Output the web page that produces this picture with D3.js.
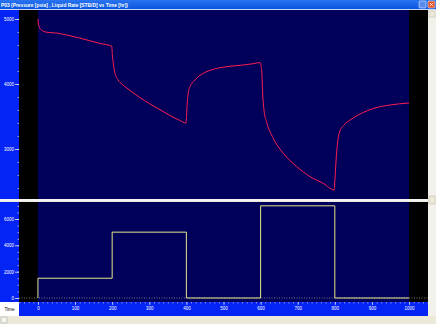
<!DOCTYPE html>
<html>
<head>
<meta charset="utf-8">
<script src="https://cdn.jsdelivr.net/npm/d3@7"></script>
<style>
  body { margin:0; background:#ece9d8; }
  svg { display:block; font-family:"Liberation Sans", Arial, sans-serif; }
</style>
</head>
<body>
<div id="chart"></div>
<script>
// pressure response
const pTime = [0, 1, 3, 6, 12, 20, 35, 55, 80, 110, 140, 170, 199,
  200.5, 203, 207.5, 215, 228, 240, 258, 275, 300, 321, 345, 364, 382, 399,
  400.5, 402, 405, 410, 419, 432, 446, 473, 509, 553, 580, 599,
  600.5, 603, 605.5, 609, 616, 634, 661, 697, 733, 769, 798,
  800.5, 803, 806, 812, 825, 841, 868, 908, 949, 1000];
const pressure = [5000, 4940, 4890, 4850, 4820, 4800, 4790, 4780, 4750, 4710, 4665, 4620, 4580,
  4450, 4320, 4170, 4070, 3990, 3935, 3860, 3790, 3700, 3630, 3550, 3490, 3440, 3400,
  3520, 3680, 3860, 3960, 4036, 4112, 4165, 4226, 4266, 4292, 4312, 4330,
  4300, 4200, 3860, 3600, 3420, 3165, 2935, 2730, 2575, 2470, 2370,
  2550, 2800, 3020, 3250, 3370, 3446, 3538, 3630, 3677, 3708];

// liquid rate steps
const rateTime = [0, 200, 400, 600, 800, 1000];
const rate = [1500, 5000, 0, 7000, 0];

const pTicks = [3000, 4000, 5000];
const rTicks = [0, 2000, 4000, 6000];
const tTicks = d3.range(0, 1001, 100);

const title = "P03 (Pressure [psia] , Liquid Rate [STB/D] vs Time [hr])";

const W = 436, H = 324;
const svg = d3.select("#chart").append("svg").attr("width", W).attr("height", H);

const x = d3.scaleLinear().domain([-51, 1051]).range([19, 428]);
const yP = d3.scaleLinear().domain([2246, 5138]).range([198, 10]);
const yR = d3.scaleLinear().domain([-228, 7290]).range([301, 202]);
const fmt = d3.format("d");

// title bar
const grad = svg.append("defs").append("linearGradient")
  .attr("id", "tb").attr("x1", 0).attr("y1", 0).attr("x2", 0).attr("y2", 1);
grad.append("stop").attr("offset", "0%").attr("stop-color", "#2a74f0");
grad.append("stop").attr("offset", "100%").attr("stop-color", "#0a55e0");
svg.append("rect").attr("x", 0).attr("y", 0).attr("width", W).attr("height", 9).attr("fill", "url(#tb)");
svg.append("rect").attr("x", 0).attr("y", 9).attr("width", W).attr("height", 1).attr("fill", "#c8d8f8");
svg.append("text").attr("x", 1).attr("y", 6.8)
  .attr("font-size", 5.6).attr("font-weight", "bold").attr("fill", "#fff")
  .attr("textLength", 127).attr("lengthAdjust", "spacingAndGlyphs").text(title);
svg.append("rect").attr("x", 419).attr("y", 1).attr("width", 7).attr("height", 7).attr("rx", 1)
  .attr("fill", "#5a8cf0").attr("stroke", "#fff").attr("stroke-width", 0.5);
svg.append("rect").attr("x", 428).attr("y", 1).attr("width", 7).attr("height", 7).attr("rx", 1)
  .attr("fill", "#e0502a").attr("stroke", "#fff").attr("stroke-width", 0.5);
svg.append("path").attr("d", "M429.8,2.8L433.2,6.2M433.2,2.8L429.8,6.2").attr("stroke", "#fff").attr("stroke-width", 0.8);

// right scrollbar and bottom strip
svg.append("rect").attr("x", 428).attr("y", 10).attr("width", 8).attr("height", 306).attr("fill", "#f2f1ea");
svg.append("rect").attr("x", 429).attr("y", 11).attr("width", 6).attr("height", 6).attr("fill", "#ece9d8").attr("stroke", "#b8b8b0").attr("stroke-width", 0.5);
svg.append("rect").attr("x", 429).attr("y", 196).attr("width", 6).attr("height", 8).attr("fill", "#ece9d8").attr("stroke", "#b8b8b0").attr("stroke-width", 0.5);
svg.append("rect").attr("x", 0).attr("y", 316).attr("width", W).attr("height", 8).attr("fill", "#ece9d8");
svg.append("rect").attr("x", 1).attr("y", 317).attr("width", 6).attr("height", 6).attr("fill", "#f4f3ee").attr("stroke", "#a0a0a0").attr("stroke-width", 0.5);

// panels
function panel(y0, y1) {
  svg.append("rect").attr("x", 0).attr("y", y0).attr("width", 19).attr("height", y1 - y0).attr("fill", "#0424f6");
  svg.append("rect").attr("x", 19).attr("y", y0).attr("width", 409).attr("height", y1 - y0).attr("fill", "#000");
  svg.append("rect").attr("x", x(0)).attr("y", y0).attr("width", x(1000) - x(0)).attr("height", y1 - y0).attr("fill", "#00005a");
}
panel(10, 199);
panel(202, 302);
svg.append("rect").attr("x", 0).attr("y", 199).attr("width", 428).attr("height", 2.2).attr("fill", "#f4f4f4");

// left axes
function leftAxis(scale, major, minorStep, lo, hi) {
  const g = svg.append("g").attr("transform", "translate(19,0)");
  g.call(d3.axisLeft(scale).tickValues(d3.range(lo, hi, minorStep)).tickSize(1.5).tickFormat(""))
    .call(a => a.select(".domain").remove())
    .call(a => a.selectAll("line").attr("stroke", "#fff").attr("stroke-width", 0.6));
  const m = svg.append("g").attr("transform", "translate(19,0)");
  m.call(d3.axisLeft(scale).tickValues(major).tickSize(4).tickPadding(1).tickFormat(fmt))
    .call(a => a.select(".domain").remove())
    .call(a => a.selectAll("line").attr("stroke", "#fff").attr("stroke-width", 0.7))
    .call(a => a.selectAll("text").attr("fill", "#fff").attr("font-size", 4.5).attr("font-family", "Liberation Sans, Arial"));
}
leftAxis(yP, pTicks, 200, 2400, 5101);
leftAxis(yR, rTicks, 500, 0, 7001);

// bottom time axis
svg.append("rect").attr("x", 19).attr("y", 302).attr("width", 409).attr("height", 14).attr("fill", "#0424f6");
svg.append("rect").attr("x", 0).attr("y", 302).attr("width", 19).attr("height", 14).attr("fill", "#fff");
svg.append("text").attr("x", 9.5).attr("y", 311).attr("text-anchor", "middle")
  .attr("font-size", 4.6).attr("fill", "#000").text("Time");
const bx = svg.append("g").attr("transform", "translate(0,302)");
bx.call(d3.axisBottom(x).tickValues(d3.range(-50, 1051, 12.5)).tickSize(1.5).tickFormat(""))
  .call(a => a.select(".domain").remove())
  .call(a => a.selectAll("line").attr("stroke", "#fff").attr("stroke-width", 0.5));
const bm = svg.append("g").attr("transform", "translate(0,302)");
bm.call(d3.axisBottom(x).tickValues(tTicks).tickSize(3).tickPadding(1.5).tickFormat(fmt))
  .call(a => a.select(".domain").remove())
  .call(a => a.selectAll("line").attr("stroke", "#fff").attr("stroke-width", 0.6))
  .call(a => a.selectAll("text").attr("fill", "#fff").attr("font-size", 4.5).attr("font-family", "Liberation Sans, Arial"));

// zero line in rate panel
svg.append("line").attr("x1", 19).attr("x2", 428).attr("y1", yR(0)).attr("y2", yR(0))
  .attr("stroke", "#c8c8a0").attr("stroke-width", 0.6).attr("stroke-dasharray", "1,1.5");

// pressure curve
const pData = pTime.map((t, i) => [t, pressure[i]]);
svg.append("path").datum(pData)
  .attr("fill", "none").attr("stroke", "#ff1f50").attr("stroke-width", 1)
  .attr("d", d3.line().x(d => x(d[0])).y(d => yP(d[1])).curve(d3.curveMonotoneX));

// rate steps
const rData = [[0, 0]];
rate.forEach((r, i) => { rData.push([rateTime[i], r]); rData.push([rateTime[i + 1], r]); });
svg.append("path").datum(rData)
  .attr("fill", "none").attr("stroke", "#e6e68a").attr("stroke-width", 1)
  .attr("d", d3.line().x(d => x(d[0])).y(d => yR(d[1])));
</script>
</body>
</html>
